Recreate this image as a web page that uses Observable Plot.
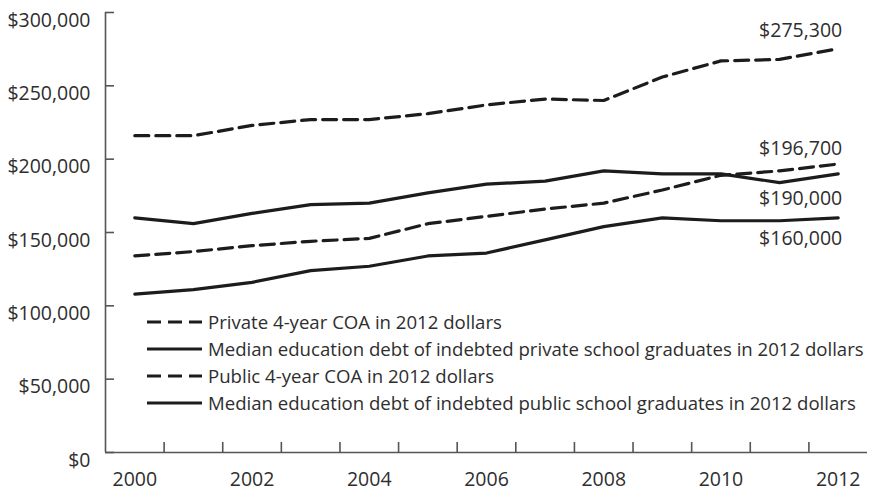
<!DOCTYPE html>
<html>
<head>
<meta charset="utf-8">
<script src="https://cdn.jsdelivr.net/npm/d3@7"></script>
<script src="https://cdn.jsdelivr.net/npm/@observablehq/plot@0.6"></script>
<style>
  html, body { margin: 0; padding: 0; background: #fff; }
  #wrap { position: relative; width: 872px; height: 494px; font-family: "Open Sans", sans-serif; color: #2e2e2e; }
  #legend { position: absolute; left: 145px; top: 308px; font-size: 18.6px; line-height: 27px; }
  #legend .row { display: flex; align-items: center; height: 27px; white-space: nowrap; }
  #legend svg { width: 60px; height: 10px; margin-right: 3px; }
</style>
</head>
<body>
<div id="wrap"><div id="chart"></div><div id="legend"></div></div>
<script>
const years = [2000, 2001, 2002, 2003, 2004, 2005, 2006, 2007, 2008, 2009, 2010, 2011, 2012];
const privateCOA  = [216000, 216000, 223000, 227000, 227000, 231000, 237000, 241000, 240000, 256000, 267000, 268000, 275300];
const privateDebt = [160000, 156000, 163000, 169000, 170000, 177000, 183000, 185000, 192000, 190000, 190000, 184000, 190000];
const publicCOA   = [134000, 137000, 141000, 144000, 146000, 156000, 161000, 166000, 170000, 179000, 189000, 192000, 196700];
const publicDebt  = [108000, 111000, 116000, 124000, 127000, 134000, 136000, 145000, 154000, 160000, 158000, 158000, 160000];

const seriesNames = [
  "Private 4-year COA in 2012 dollars",
  "Median education debt of indebted private school graduates in 2012 dollars",
  "Public 4-year COA in 2012 dollars",
  "Median education debt of indebted public school graduates in 2012 dollars"
];
const seriesValues = [privateCOA, privateDebt, publicCOA, publicDebt];
const seriesDashed = [true, false, true, false];

const endLabels = ["$275,300", "$190,000", "$196,700", "$160,000"];
const endLabelDy = [-18, 25, -15, 21];

const yTicks = [0, 50000, 100000, 150000, 200000, 250000, 300000];
const xLabelYears = [2000, 2002, 2004, 2006, 2008, 2010, 2012];
const xTickBoundaries = [2000.5, 2001.5, 2002.5, 2003.5, 2004.5, 2005.5, 2006.5, 2007.5, 2008.5, 2009.5, 2010.5, 2011.5];

const rows = [];
seriesNames.forEach((name, i) => {
  years.forEach((yr, j) => rows.push({series: name, year: yr, value: seriesValues[i][j]}));
});
const last = years.length - 1;

const ink = "#1c1c1c";
const textInk = "#2e2e2e";
const axisColor = "#555";
const dash = "14,7";

const lineMarks = seriesNames.map((name, i) =>
  Plot.line(rows.filter(d => d.series === name), {
    x: "year", y: "value", stroke: ink, strokeWidth: 3.2,
    strokeDasharray: seriesDashed[i] ? dash : null, strokeLinejoin: "round"
  })
);

const labelMarks = seriesNames.map((name, i) =>
  Plot.text([{year: years[last], value: seriesValues[i][last], label: endLabels[i]}], {
    x: "year", y: "value", text: "label", dy: endLabelDy[i], dx: 4,
    textAnchor: "end", fill: textInk, fontSize: 19.5
  })
);

const chart = Plot.plot({
  width: 872,
  height: 494,
  marginLeft: 105,
  marginRight: 5,
  marginTop: 12,
  marginBottom: 42,
  style: {fontFamily: "'Open Sans', sans-serif", fontSize: "19.5px", color: textInk, background: "#fff"},
  x: {domain: [years[0] - 0.5, years[last] + 0.5]},
  y: {domain: [0, 300000]},
  marks: [
    Plot.axisY(yTicks, {
      anchor: "left", tickSize: 8, dx: 8, dy: 8, tickPadding: 15, stroke: "none",
      tickFormat: d => "$" + d3.format(",")(d), fill: textInk, label: null
    }),
    Plot.axisY(yTicks, {anchor: "left", tickSize: 9, dx: 9, fill: "none", stroke: axisColor, strokeWidth: 1.6, label: null}),
    Plot.axisX(xTickBoundaries, {anchor: "bottom", tickSize: 10, dy: -10, fill: "none", stroke: axisColor, strokeWidth: 1.6, label: null}),
    Plot.axisX(xLabelYears, {anchor: "bottom", tickSize: 0, tickPadding: 20, tickFormat: d => String(d), fill: textInk, label: null}),
    Plot.ruleY([0], {stroke: axisColor, strokeWidth: 1.6}),
    Plot.ruleX([years[0] - 0.5], {stroke: axisColor, strokeWidth: 1.6}),
    ...lineMarks,
    ...labelMarks
  ]
});
document.getElementById("chart").appendChild(chart);

const legend = document.getElementById("legend");
seriesNames.forEach((name, i) => {
  const row = document.createElement("div");
  row.className = "row";
  row.innerHTML = `<svg viewBox="0 0 60 10"><line x1="2" y1="5" x2="57" y2="5" stroke="${ink}" stroke-width="3.2" ${seriesDashed[i] ? 'stroke-dasharray="14,7"' : ''}/></svg><span>${name}</span>`;
  legend.appendChild(row);
});
</script>
</body>
</html>
